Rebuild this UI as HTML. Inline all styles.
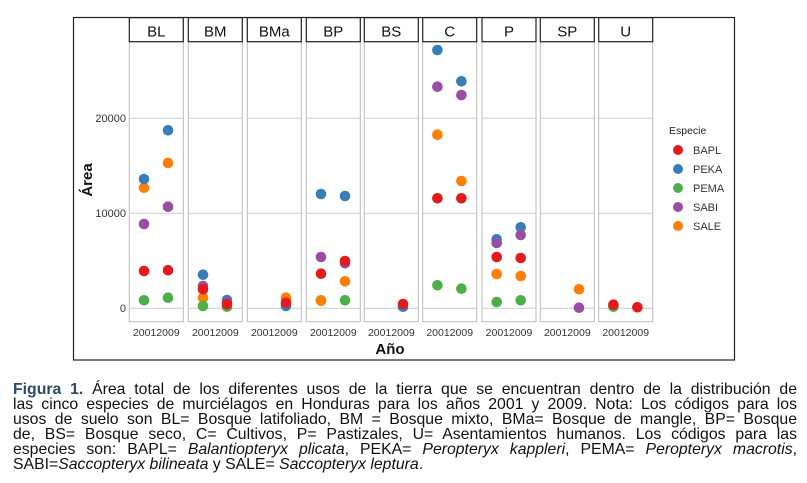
<!DOCTYPE html>
<html><head><meta charset="utf-8"><style>
body{margin:0;width:807px;height:483px;background:#fff;overflow:hidden;position:relative;font-family:"Liberation Sans",sans-serif}
.cap{position:absolute;left:13px;width:784px;top:382px;font-size:15.8px;line-height:15px;color:#111}
.cap div{text-align:justify;text-align-last:justify;white-space:nowrap;overflow:visible}
.cap div.l{text-align-last:left}
.cap b{color:#2b4a6a}
</style></head><body>
<svg width="807" height="483" style="position:absolute;left:0;top:0" font-family="Liberation Sans, sans-serif">
<rect x="73.5" y="17.5" width="661" height="342.5" fill="#fff" stroke="#222" stroke-width="1.2"/>
<g id="panels"></g>
<text x="126" y="122" font-size="11" text-anchor="end" fill="#333">20000</text>
<text x="126" y="217" font-size="11" text-anchor="end" fill="#333">10000</text>
<text x="126" y="312" font-size="11" text-anchor="end" fill="#333">0</text>
<text x="390" y="354" font-size="15" font-weight="bold" text-anchor="middle" fill="#111">Año</text>
<text transform="translate(92,180) rotate(-90)" font-size="15" font-weight="bold" text-anchor="middle" fill="#111">Área</text>
<text x="669" y="134" font-size="10.5" fill="#222">Especie</text>
<g font-size="11" fill="#333">
<circle cx="678" cy="150" r="5" fill="#E41A1C"/><text x="693" y="154">BAPL</text>
<circle cx="678" cy="169" r="5" fill="#377EB8"/><text x="693" y="173">PEKA</text>
<circle cx="678" cy="188" r="5" fill="#4DAF4A"/><text x="693" y="192">PEMA</text>
<circle cx="678" cy="207" r="5" fill="#984EA3"/><text x="693" y="211">SABI</text>
<circle cx="678" cy="226" r="5" fill="#FF7F00"/><text x="693" y="230">SALE</text>
</g>
</svg>
<div class="cap">
<div><b>Figura 1.</b> Área total de los diferentes usos de la tierra que se encuentran dentro de la distribución de</div>
<div>las cinco especies de murciélagos en Honduras para los años 2001 y 2009. Nota: Los códigos para los</div>
<div>usos de suelo son BL= Bosque latifoliado, BM = Bosque mixto, BMa= Bosque de mangle, BP= Bosque</div>
<div>de, BS= Bosque seco, C= Cultivos, P= Pastizales, U= Asentamientos humanos. Los códigos para las</div>
<div>especies son: BAPL= <i>Balantiopteryx plicata</i>, PEKA= <i>Peropteryx kappleri</i>, PEMA= <i>Peropteryx macrotis</i>,</div>
<div class="l">SABI=<i>Saccopteryx bilineata</i> y SALE= <i>Saccopteryx leptura</i>.</div>
</div>
<script>
var C={R:"#E41A1C",B:"#377EB8",G:"#4DAF4A",P:"#984EA3",O:"#FF7F00"};
var names=["BL","BM","BMa","BP","BS","C","P","SP","U"];
var lefts=[129.3,188.3,247.3,306.3,364.3,422.7,482,540.3,598.7];
var data=[
[[0,"G",300.3],[0,"R",271],[0,"P",224],[0,"O",187.7],[0,"B",179],[1,"G",297.7],[1,"R",270.3],[1,"P",206.7],[1,"O",163],[1,"B",130.3]],
[[0,"B",274.7],[0,"P",286],[0,"O",297.7],[0,"G",306],[0,"R",289.3],[1,"B",300],[1,"P",302.7],[1,"G",306.7],[1,"R",304.3]],
[[1,"B",306],[1,"O",297.7],[1,"R",302.7]],
[[0,"B",194],[0,"P",257],[0,"R",273.7],[0,"G",300.3],[0,"O",300.7],[1,"B",196],[1,"P",263.3],[1,"R",261],[1,"O",281.3],[1,"G",300.3]],
[[1,"B",306.7],[1,"R",304]],
[[0,"B",50],[0,"P",86.7],[0,"O",134.7],[0,"R",198.3],[0,"G",285.3],[1,"B",81.3],[1,"P",95],[1,"O",181],[1,"R",198.3],[1,"G",288.7]],
[[0,"B",239.3],[0,"P",243],[0,"R",257],[0,"O",274],[0,"G",302],[1,"B",227.3],[1,"P",235],[1,"R",258],[1,"O",276],[1,"G",300.3]],
[[1,"O",289.3],[1,"P",307.7]],
[[0,"G",306.7],[0,"R",304.7],[1,"R",307.3]]
];
var s="";
for(var i=0;i<9;i++){var x=lefts[i],w=54;
s+='<rect x="'+x+'" y="41.7" width="'+w+'" height="280" fill="#fff" stroke="#bbb" stroke-width="1"/>';
[118.3,213.3,308.3].forEach(function(y){s+='<line x1="'+x+'" x2="'+(x+w)+'" y1="'+y+'" y2="'+y+'" stroke="#ccc" stroke-width="1"/>';});
s+='<rect x="'+x+'" y="17.7" width="'+w+'" height="24" fill="#fff" stroke="#222" stroke-width="1.2"/>';
s+='<text x="'+(x+w/2)+'" y="36.5" font-size="15" text-anchor="middle" fill="#111">'+names[i]+'</text>';
s+='<text x="'+(x+w/2)+'" y="336" font-size="10.5" text-anchor="middle" fill="#333">20012009</text>';
data[i].forEach(function(d){s+='<circle cx="'+(x+(d[0]?38.7:14.7))+'" cy="'+d[2]+'" r="5.3" fill="'+C[d[1]]+'"/>';});
}
document.getElementById("panels").innerHTML=s;
</script>
</body></html>
